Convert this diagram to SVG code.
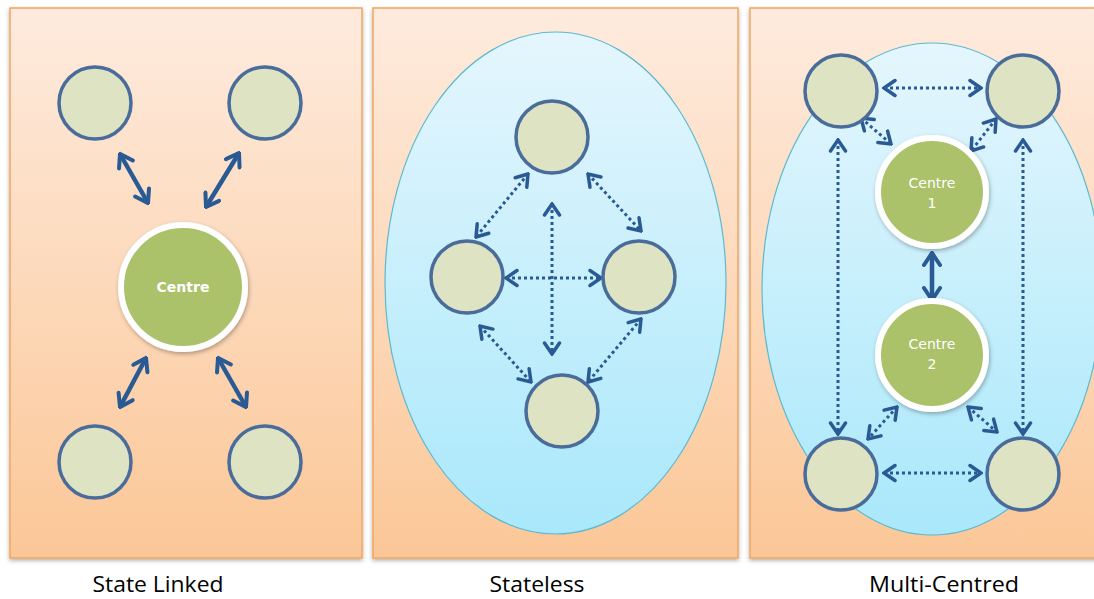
<svg xmlns="http://www.w3.org/2000/svg" width="1094" height="599" viewBox="0 0 1094 599">
<defs>
<linearGradient id="panelG" x1="0" y1="0" x2="0" y2="1">
<stop offset="0" stop-color="#FEEBDE"/>
<stop offset="1" stop-color="#FBC797"/>
</linearGradient>
<linearGradient id="ellG" x1="0" y1="0" x2="0" y2="1">
<stop offset="0" stop-color="#E5F6FD"/>
<stop offset="1" stop-color="#A9E8FB"/>
</linearGradient>
<filter id="sh" x="-10%" y="-10%" width="120%" height="120%">
<feDropShadow dx="0" dy="2" stdDeviation="2" flood-color="#000" flood-opacity="0.3"/>
</filter>
<filter id="csh" x="-20%" y="-20%" width="140%" height="140%">
<feDropShadow dx="1" dy="2" stdDeviation="2" flood-color="#000" flood-opacity="0.3"/>
</filter>
<marker id="ah" viewBox="-15 -10 17 20" refX="0" refY="0" markerWidth="17" markerHeight="20" markerUnits="userSpaceOnUse" orient="auto-start-reverse">
<path d="M-11,-7.5 L0,0 L-11,7.5" fill="none" stroke="#2A5A94" stroke-width="3.5" stroke-linecap="round"/>
</marker>
<marker id="ahs" viewBox="-15 -10 17 20" refX="0" refY="0" markerWidth="17" markerHeight="20" markerUnits="userSpaceOnUse" orient="auto-start-reverse">
<path d="M-12,-8 L0,0 L-12,8" fill="none" stroke="#2A5A94" stroke-width="4" stroke-linecap="round"/>
</marker>
</defs>
<style>
.panel{fill:url(#panelG);stroke:#F2A55E;stroke-width:1.5;filter:url(#sh)}
.ell{fill:url(#ellG);stroke:#5CB9D0;stroke-width:1.2}
.node{fill:#DDE3C3;stroke:#4A6C9A;stroke-width:3.5}
.centre{fill:#ABC26B;stroke:#FFFFFF;stroke-width:6;filter:url(#csh)}
.solid{fill:none;stroke:#2A5A94;stroke-width:4.5;marker-start:url(#ahs);marker-end:url(#ahs)}
.dot{fill:none;stroke:#2A5A94;stroke-width:3;stroke-dasharray:3 3;marker-start:url(#ah);marker-end:url(#ah)}
.ctext{font-family:"DejaVu Sans",sans-serif;font-size:14px;fill:#FFFFFF;text-anchor:middle}
.label{font-family:"Open Sans","Liberation Sans",sans-serif;font-size:22px;fill:#000000;text-anchor:middle}
</style>

<g id="panel-state-linked">
<rect class="panel" x="10" y="8" width="352" height="550"/>
</g>
<g id="panel-stateless">
<rect class="panel" x="373" y="8" width="365" height="550"/>
<ellipse class="ell" cx="555.5" cy="283" rx="170.5" ry="251"/>
</g>
<g id="panel-multi-centred">
<rect class="panel" x="750" y="8" width="360" height="550"/>
<ellipse class="ell" cx="932" cy="289" rx="170" ry="246"/>
</g>

<g id="connectors">
<!-- State Linked -->
<line class="solid" x1="120" y1="154" x2="148" y2="203"/>
<line class="solid" x1="239" y1="153" x2="206" y2="207"/>
<line class="solid" x1="146" y1="358" x2="120" y2="407"/>
<line class="solid" x1="218" y1="358" x2="246" y2="407"/>
<!-- Stateless -->
<line class="dot" x1="528" y1="174" x2="476" y2="237"/>
<line class="dot" x1="588" y1="174" x2="641" y2="231"/>
<line class="dot" x1="506" y1="278" x2="601" y2="278"/>
<line class="dot" x1="552" y1="204" x2="552" y2="354"/>
<line class="dot" x1="480" y1="326" x2="531" y2="382"/>
<line class="dot" x1="641" y1="319" x2="588" y2="382"/>
<!-- Multi-Centred -->
<line class="dot" x1="884" y1="88" x2="981" y2="88"/>
<line class="dot" x1="884" y1="473" x2="981" y2="473"/>
<line class="dot" x1="838" y1="140" x2="838" y2="434"/>
<line class="dot" x1="1023" y1="140" x2="1023" y2="434"/>
<line class="dot" x1="861" y1="118" x2="891" y2="144"/>
<line class="dot" x1="996" y1="119" x2="971" y2="151"/>
<line class="dot" x1="897" y1="407" x2="868" y2="439"/>
<line class="dot" x1="968" y1="407" x2="997" y2="432"/>
<line class="solid" x1="932" y1="253" x2="932" y2="300"/>
</g>

<g id="sl-n1"><circle class="node" cx="95" cy="103" r="36"/></g>
<g id="sl-n2"><circle class="node" cx="265" cy="103" r="36"/></g>
<g id="sl-n3"><circle class="node" cx="95" cy="462" r="36"/></g>
<g id="sl-n4"><circle class="node" cx="265" cy="462" r="36"/></g>
<g id="sl-centre">
<circle class="centre" cx="183" cy="287" r="62"/>
<text class="ctext" x="183" y="292" font-weight="bold">Centre</text>
</g>

<g id="st-n1"><circle class="node" cx="552" cy="137" r="36"/></g>
<g id="st-n2"><circle class="node" cx="467" cy="277" r="36"/></g>
<g id="st-n3"><circle class="node" cx="639" cy="277" r="36"/></g>
<g id="st-n4"><circle class="node" cx="562" cy="411" r="36"/></g>

<g id="mc-n1"><circle class="node" cx="841" cy="91" r="36"/></g>
<g id="mc-n2"><circle class="node" cx="1023" cy="91" r="36"/></g>
<g id="mc-n3"><circle class="node" cx="841" cy="474" r="36"/></g>
<g id="mc-n4"><circle class="node" cx="1023" cy="474" r="36"/></g>
<g id="mc-centre1">
<circle class="centre" cx="932" cy="192" r="54"/>
<text class="ctext" x="932" y="188">Centre</text>
<text class="ctext" x="932" y="208">1</text>
</g>
<g id="mc-centre2">
<circle class="centre" cx="932" cy="355" r="54"/>
<text class="ctext" x="932" y="349">Centre</text>
<text class="ctext" x="932" y="369">2</text>
</g>

<g id="labels">
<text class="label" x="158" y="592" textLength="131" lengthAdjust="spacingAndGlyphs">State Linked</text>
<text class="label" x="537" y="592" textLength="95" lengthAdjust="spacingAndGlyphs">Stateless</text>
<text class="label" x="944" y="592" textLength="150" lengthAdjust="spacingAndGlyphs">Multi-Centred</text>
</g>
</svg>
